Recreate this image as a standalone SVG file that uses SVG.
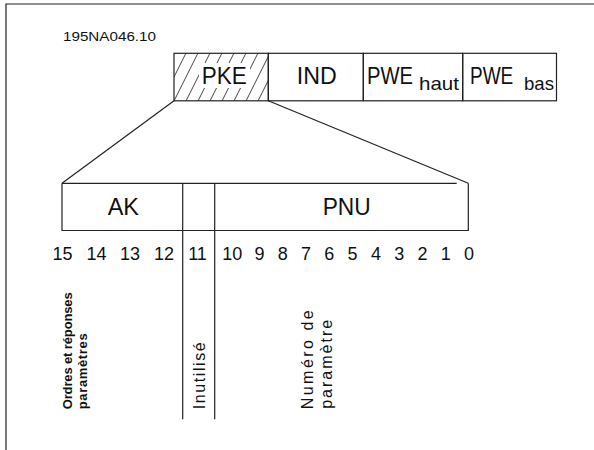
<svg xmlns="http://www.w3.org/2000/svg" width="594" height="450" viewBox="0 0 594 450">
<style>
.ln{fill:none;stroke:#222;stroke-width:1.2}
.hl{fill:none;stroke:#333;stroke-width:0.9}
.t{font-family:"Liberation Sans",Arial,sans-serif;fill:#111}
.big{font-size:24px}
.sub{font-size:19px}
.num{font-size:18px;text-anchor:middle}
.vb{font-size:13px;font-weight:bold}
.vr{font-size:16px}
</style>
<defs>
<clipPath id="pkeclip"><rect x="174" y="53.3" width="94.3" height="47.5"/></clipPath>
</defs>
<rect width="594" height="450" fill="#fff"/>
<g id="frame"><path class="ln" d="M6,450 V4 H594"/></g>
<text id="ref" class="t" x="63" y="41" font-size="13" textLength="93" lengthAdjust="spacingAndGlyphs">195NA046.10</text>

<g id="node-PKE">
<g clip-path="url(#pkeclip)">
<path class="hl" d="M138,101 L162,53 M150,101 L174,53 M162,101 L186,53 M174,101 L198,53 M186,101 L210,53 M198,101 L222,53 M210,101 L234,53 M222,101 L246,53 M234,101 L258,53 M246,101 L270,53 M258,101 L282,53 M270,101 L294,53"/>
</g>
<rect x="199" y="63" width="51" height="25" fill="#fff"/>
<rect class="ln" x="174" y="53.3" width="94.3" height="47.5"/>
<text class="t big" x="201.7" y="84.3" textLength="45" lengthAdjust="spacingAndGlyphs">PKE</text>
</g>
<g id="node-IND">
<rect class="ln" x="268.3" y="53.3" width="95" height="47.5"/>
<text class="t big" x="296.7" y="84.3" textLength="40" lengthAdjust="spacingAndGlyphs">IND</text>
</g>
<g id="node-PWEhaut">
<rect class="ln" x="363.3" y="53.3" width="99.4" height="47.5"/>
<text class="t big" x="367" y="84.3" textLength="46" lengthAdjust="spacingAndGlyphs">PWE</text>
<text class="t sub" x="419" y="90" textLength="40" lengthAdjust="spacingAndGlyphs">haut</text>
</g>
<g id="node-PWEbas">
<rect class="ln" x="462.7" y="53.3" width="93.8" height="47.5"/>
<text class="t big" x="470" y="84.3" textLength="43.3" lengthAdjust="spacingAndGlyphs">PWE</text>
<text class="t sub" x="524" y="90" textLength="30" lengthAdjust="spacingAndGlyphs">bas</text>
</g>

<g id="connectors">
<path class="ln" d="M174,100.8 L62,183.3"/>
<path class="ln" d="M268.3,100.8 L468.3,183.3"/>
</g>

<g id="node-PKE-bits">
<path class="ln" d="M62,183.3 H456.7 M62,183.3 V230.5 H468.3 V183.3"/>
<path class="ln" d="M182.7,183.3 V419.3 M214.7,183.3 V419.3"/>
<text class="t big" x="107.7" y="215" textLength="31.3" lengthAdjust="spacingAndGlyphs">AK</text>
<text class="t big" x="322.7" y="215" textLength="48" lengthAdjust="spacingAndGlyphs">PNU</text>
</g>

<g id="bit-numbers">
<text class="t num" x="62.5" y="260">15</text>
<text class="t num" x="96.5" y="260">14</text>
<text class="t num" x="130" y="260">13</text>
<text class="t num" x="164" y="260">12</text>
<text class="t num" x="197.5" y="260">11</text>
<text class="t num" x="232.3" y="260">10</text>
<text class="t num" x="259.5" y="260">9</text>
<text class="t num" x="282.8" y="260">8</text>
<text class="t num" x="306" y="260">7</text>
<text class="t num" x="329.3" y="260">6</text>
<text class="t num" x="352.6" y="260">5</text>
<text class="t num" x="375.9" y="260">4</text>
<text class="t num" x="399.2" y="260">3</text>
<text class="t num" x="422.5" y="260">2</text>
<text class="t num" x="445.8" y="260">1</text>
<text class="t num" x="469" y="260">0</text>
</g>

<g id="labels">
<text class="t vb" transform="translate(72,409.3) rotate(-90)" textLength="117">Ordres et réponses</text>
<text class="t vb" transform="translate(86.5,409.3) rotate(-90)" textLength="76">paramètres</text>
<text class="t vr" transform="translate(205,409.3) rotate(-90)" textLength="67">Inutilisé</text>
<text class="t vr" transform="translate(313,409.3) rotate(-90)" textLength="99">Numéro de</text>
<text class="t vr" transform="translate(331.7,408.8) rotate(-90)" textLength="89">paramètre</text>
</g>
</svg>
